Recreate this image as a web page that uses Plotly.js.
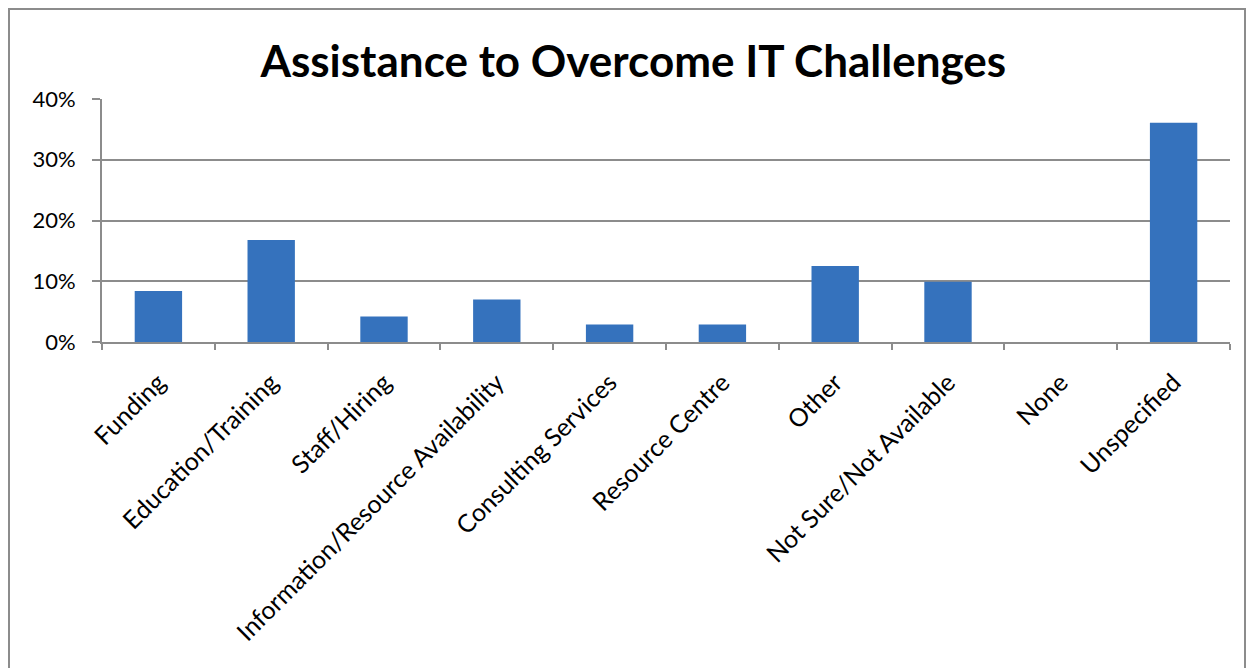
<!DOCTYPE html>
<html>
<head>
<meta charset="utf-8">
<script src="https://cdn.plot.ly/plotly-3.0.1.min.js"></script>
<style>
html,body{margin:0;padding:0;background:#fff;overflow:hidden;}
#frame{position:absolute;left:8px;top:8px;width:1238px;height:700px;border:2px solid #8c8c8c;box-sizing:border-box;}
#chart{position:absolute;left:0;top:0;width:1254px;height:668px;}
</style>
</head>
<body>
<div id="frame"></div>
<div id="chart"></div>
<script>
const categories = ["Funding","Education/Training","Staff/Hiring","Information/Resource Availability","Consulting Services","Resource Centre","Other","Not Sure/Not Available","None","Unspecified"];
const values = [0.084, 0.168, 0.042, 0.070, 0.029, 0.029, 0.125, 0.099, 0.0, 0.361];
const yTickVals = [0, 0.1, 0.2, 0.3, 0.4];
const yTickText = ["0%","10%","20%","30%","40%"];
const titleText = "Assistance to Overcome IT Challenges";

const font = "Lato, 'Open Sans', sans-serif";
Plotly.newPlot("chart", [{
  type: "bar",
  x: categories,
  y: values,
  marker: {color: "#3572bd", line: {width: 0}},
  hoverinfo: "x+y"
}], {
  width: 1254, height: 668,
  paper_bgcolor: "rgba(0,0,0,0)",
  plot_bgcolor: "rgba(0,0,0,0)",
  margin: {l: 102, r: 24, t: 99, b: 326},
  bargap: 0.58,
  showlegend: false,
  title: {text: "<b>" + titleText + "</b>", x: 0.505, xanchor: "center", y: 0.908, yanchor: "middle",
          font: {family: font, size: 44, color: "#000"}},
  xaxis: {
    type: "category",
    tickangle: -45,
    tickson: "boundaries",
    ticks: "outside", ticklen: 6, tickwidth: 2, tickcolor: "#8c8c8c",
    showline: true, linecolor: "#8c8c8c", linewidth: 2,
    showgrid: false,
    ticklabelstandoff: 14,
    tickfont: {family: font, size: 25, color: "#000"},
    fixedrange: true
  },
  yaxis: {
    range: [0, 0.4],
    tickvals: yTickVals, ticktext: yTickText,
    ticks: "outside", ticklen: 8, tickwidth: 2, tickcolor: "#8c8c8c",
    showline: true, linecolor: "#8c8c8c", linewidth: 2,
    showgrid: true, gridcolor: "#8c8c8c", gridwidth: 2,
    zeroline: false,
    ticklabelstandoff: 12,
    tickfont: {family: font, size: 22, color: "#000"},
    fixedrange: true
  }
}, {displayModeBar: false, staticPlot: true});
</script>
</body>
</html>
